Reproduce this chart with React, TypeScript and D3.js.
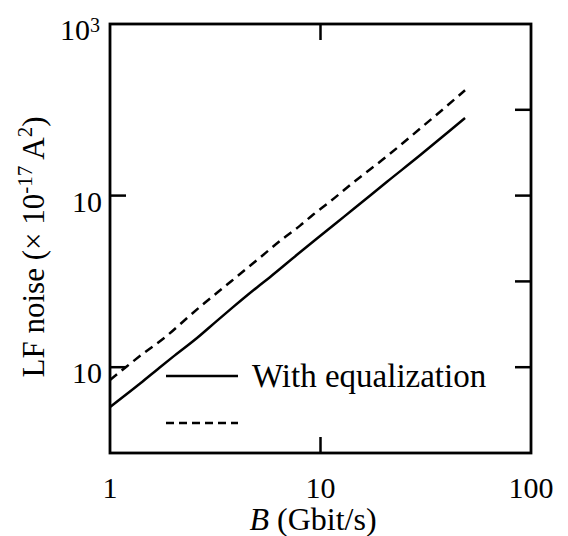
import React from "react";
import * as d3 from "d3";

const solidB = [1, 1.39, 1.69, 1.99, 2.59, 3.22, 3.84, 4.99, 5.75, 7.73, 9.62, 12.0, 14.3, 20.7, 29.7, 39.9, 48.6];
const solidV = [0.0344, 0.0646, 0.0955, 0.132, 0.219, 0.347, 0.501, 0.851, 1.12, 2.04, 3.16, 4.9, 6.92, 14.5, 29.5, 53.7, 80.2];
const dashedB = [1, 1.2, 1.43, 1.87, 2.22, 2.68, 3.59, 4.99, 6.64, 8.0, 9.21, 11.1, 14.3, 20.7, 29.7, 36.9, 48.6];
const dashedV = [0.071, 0.102, 0.143, 0.234, 0.339, 0.507, 0.912, 1.77, 3.16, 4.47, 5.98, 8.51, 14.2, 28.8, 60.3, 94.4, 169];

const xTicks = [1, 10, 100];
const xTickLabels = ["1", "10", "100"];
const yLabelTicks = [1000, 10, 0.1];
const yLabelMain = ["10", "10", "10"];
const yLabelSup = ["3", "", ""];
const yAllTicks = [100, 10, 1, 0.1];
const legendLabels = ["With equalization", ""];

const FONT = "'Liberation Serif', 'Times New Roman', serif";

export default function App() {
  const left = 110, right = 531, top = 24, bottom = 453;
  const x = d3.scaleLog().domain([1, 100]).range([left, right]);
  const y = d3.scaleLog().domain([0.01, 1000]).range([bottom, top]);
  const line = d3.line<[number, number]>().x((d) => x(d[0])).y((d) => y(d[1])).curve(d3.curveMonotoneX);
  const solidPts = solidB.map((b, i) => [b, solidV[i]] as [number, number]);
  const dashedPts = dashedB.map((b, i) => [b, dashedV[i]] as [number, number]);
  const tl = 16;
  return (
    <svg width={568} height={536} style={{ position: "absolute", left: 0, top: 0, background: "#fff" }} fontFamily={FONT}>
      <rect x={0} y={0} width={568} height={536} fill="#fff" />
      <path d={line(solidPts) || ""} fill="none" stroke="#000" strokeWidth={2.5} />
      <path d={line(dashedPts) || ""} fill="none" stroke="#000" strokeWidth={2.5} strokeDasharray="9,6" />
      <rect x={left} y={top} width={right - left} height={bottom - top} fill="none" stroke="#000" strokeWidth={2.8} />
      {[10].map((t) => (
        <g key={"xt" + t}>
          <line x1={x(t)} x2={x(t)} y1={bottom} y2={bottom - tl} stroke="#000" strokeWidth={2.5} />
          <line x1={x(t)} x2={x(t)} y1={top} y2={top + tl} stroke="#000" strokeWidth={2.5} />
        </g>
      ))}
      {xTicks.map((t, i) => (
        <text key={"xl" + t} x={x(t)} y={498} fontSize={30} textAnchor="middle">{xTickLabels[i]}</text>
      ))}
      {[10, 0.1].map((t) => (
        <line key={"yl" + t} x1={left} x2={left + tl} y1={y(t)} y2={y(t)} stroke="#000" strokeWidth={2.5} />
      ))}
      {yAllTicks.map((t) => (
        <line key={"yr" + t} x1={right} x2={right - tl} y1={y(t)} y2={y(t)} stroke="#000" strokeWidth={2.5} />
      ))}
      {yLabelTicks.map((t, i) => (
        <text key={"ylab" + t} x={yLabelSup[i] ? 90 : 102} y={y(t) + 16} fontSize={30} textAnchor="end">
          {yLabelMain[i]}
        </text>
      ))}
      {yLabelTicks.map((t, i) =>
        yLabelSup[i] ? (
          <text key={"ysup" + t} x={90} y={y(t) + 8} fontSize={20} textAnchor="start">{yLabelSup[i]}</text>
        ) : null
      )}
      <text x={313} y={530} fontSize={32} textAnchor="middle">
        <tspan fontStyle="italic">B</tspan> (Gbit/s)
      </text>
      <text transform={`translate(44, ${247}) rotate(-90)`} fontSize={31} textAnchor="middle">
        LF noise (× 10<tspan fontSize={21} dy={-12}>-17</tspan><tspan dy={12}> A</tspan><tspan fontSize={21} dy={-12}>2</tspan><tspan dy={12}>)</tspan>
      </text>
      <line x1={166} x2={238} y1={376} y2={376} stroke="#000" strokeWidth={2.5} />
      <line x1={166} x2={238} y1={423} y2={423} stroke="#000" strokeWidth={2.5} strokeDasharray="8,5" />
      <text x={252} y={387} fontSize={33}>{legendLabels[0]}</text>
      <text x={252} y={434} fontSize={33}>{legendLabels[1]}</text>
    </svg>
  );
}
